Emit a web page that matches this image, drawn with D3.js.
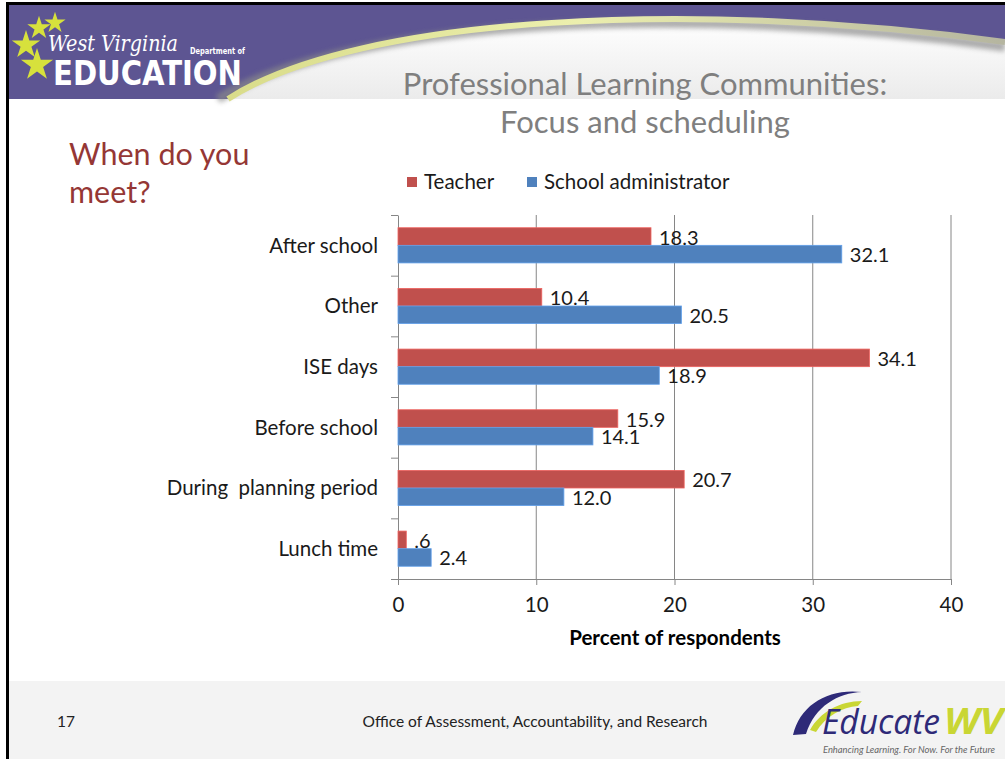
<!DOCTYPE html>
<html>
<head>
<meta charset="utf-8">
<script src="https://cdn.jsdelivr.net/npm/d3@7"></script>
<style>
  html, body { margin: 0; padding: 0; background: #fff; }
  svg { display: block; }
  text { font-family: Lato, "Open Sans", sans-serif; }
</style>
</head>
<body>
<svg id="slide"></svg>
<script>
// --- data ---
const categories = ["After school", "Other", "ISE days", "Before school", "During  planning period", "Lunch time"];
const seriesNames = ["Teacher", "School administrator"];
const teacherValues = [18.3, 10.4, 34.1, 15.9, 20.7, 0.6];
const adminValues = [32.1, 20.5, 18.9, 14.1, 12.0, 2.4];
const xTickValues = [0, 10, 20, 30, 40];
const seriesColors = ["#C0504D", "#4F81BD"];

const width = 1005;
const height = 759;

const svg = d3.select("#slide")
    .attr("width", width)
    .attr("height", height)
    .attr("viewBox", [0, 0, width, height]);

const defs = svg.append("defs");

// --- background / frame ---
svg.append("rect").attr("width", width).attr("height", height).attr("fill", "#fff");

// header band
svg.append("rect")
    .attr("x", 8).attr("y", 4).attr("width", width - 8).attr("height", 95)
    .attr("fill", "#5d5592");

const hdrGrad = defs.append("linearGradient").attr("id", "hdrGrad")
    .attr("x1", 0).attr("y1", 0).attr("x2", 0).attr("y2", 1);
hdrGrad.append("stop").attr("offset", "0%").attr("stop-color", "#ffffff");
hdrGrad.append("stop").attr("offset", "100%").attr("stop-color", "#ebebeb");

const blur = defs.append("filter").attr("id", "soft")
    .attr("x", "-10%").attr("y", "-50%").attr("width", "120%").attr("height", "200%");
blur.append("feGaussianBlur").attr("stdDeviation", 2.5);

const swoosh = "M 228,99 C 360,14 700,0 1005,42";
svg.append("path")
    .attr("d", swoosh + " L 1005,99 Z")
    .attr("fill", "url(#hdrGrad)");
svg.append("path")
    .attr("d", "M 218,99 C 350,18 690,4 1005,47")
    .attr("fill", "none").attr("stroke", "#8a8a8a").attr("stroke-width", 9)
    .attr("opacity", 0.7).attr("filter", "url(#soft)");

const yelGrad = defs.append("linearGradient").attr("id", "yelGrad")
    .attr("x1", 0).attr("y1", 0).attr("x2", 1).attr("y2", 0);
yelGrad.append("stop").attr("offset", "0%").attr("stop-color", "#d9dc8a");
yelGrad.append("stop").attr("offset", "45%").attr("stop-color", "#ecefae");
yelGrad.append("stop").attr("offset", "100%").attr("stop-color", "#b5b5a0");
svg.append("path")
    .attr("d", swoosh)
    .attr("fill", "none").attr("stroke", "url(#yelGrad)").attr("stroke-width", 6);

// black frame lines
svg.append("rect").attr("x", 6).attr("y", 2).attr("width", width - 6).attr("height", 3).attr("fill", "#000");
svg.append("rect").attr("x", 6).attr("y", 2).attr("width", 3).attr("height", height - 2).attr("fill", "#000");

// footer
svg.append("rect")
    .attr("x", 9).attr("y", 681).attr("width", width - 9).attr("height", height - 681)
    .attr("fill", "#f3f3f3");

// --- WV logo ---
const starPath = d3.symbol().type(d3.symbolStar);
[[39, 28, 170], [55, 23, 140], [26, 45, 250], [37, 65, 320]].forEach(([sx, sy, sz]) => {
    svg.append("path")
        .attr("d", starPath.size(sz)())
        .attr("transform", `translate(${sx},${sy})`)
        .attr("fill", "#d7e13c");
});
svg.append("text")
    .attr("x", 48).attr("y", 51)
    .attr("fill", "#fff")
    .style("font-family", "'DejaVu Serif', serif")
    .style("font-style", "italic")
    .style("font-size", "22px")
    .attr("textLength", 130).attr("lengthAdjust", "spacingAndGlyphs")
    .text("West Virginia");
svg.append("text")
    .attr("x", 190).attr("y", 54)
    .attr("fill", "#fff")
    .style("font-family", "'Liberation Sans Narrow', 'DejaVu Sans Condensed', sans-serif")
    .style("font-weight", "bold")
    .style("font-size", "9px")
    .attr("textLength", 55).attr("lengthAdjust", "spacingAndGlyphs")
    .text("Department of");
svg.append("text")
    .attr("x", 53).attr("y", 85)
    .attr("fill", "#fff")
    .style("font-family", "'Liberation Sans Narrow', 'DejaVu Sans Condensed', sans-serif")
    .style("font-weight", "bold")
    .style("font-size", "33px")
    .attr("textLength", 189).attr("lengthAdjust", "spacingAndGlyphs")
    .text("EDUCATION");

// --- titles ---
svg.append("text")
    .attr("x", 645).attr("y", 95)
    .attr("text-anchor", "middle")
    .attr("fill", "#7f7f7f")
    .style("font-size", "31px")
    .text("Professional Learning Communities:");
svg.append("text")
    .attr("x", 645).attr("y", 133)
    .attr("text-anchor", "middle")
    .attr("fill", "#7f7f7f")
    .style("font-size", "31px")
    .text("Focus and scheduling");

svg.append("text")
    .attr("x", 69).attr("y", 165)
    .attr("fill", "#953735")
    .style("font-size", "30.5px")
    .text("When do you");
svg.append("text")
    .attr("x", 69).attr("y", 203)
    .attr("fill", "#953735")
    .style("font-size", "30.5px")
    .text("meet?");

// --- chart ---
const plotLeft = 398, plotRight = 951, plotTop = 215, plotBottom = 579;

const x = d3.scaleLinear().domain([0, 40]).range([plotLeft, plotRight]);
const y = d3.scaleBand().domain(categories).range([plotTop, plotBottom])
    .paddingInner(0.42).paddingOuter(0.21);
const ySub = d3.scaleBand().domain(seriesNames).range([0, y.bandwidth()]);
const yEdge = d3.scaleLinear().domain([0, categories.length]).range([plotTop, plotBottom]);

const axisColor = "#868686";
const chart = svg.append("g");

// gridlines
chart.append("g")
    .selectAll("line")
    .data(xTickValues.filter(d => d > 0))
    .join("line")
    .attr("x1", d => x(d)).attr("x2", d => x(d))
    .attr("y1", plotTop).attr("y2", plotBottom)
    .attr("stroke", axisColor).attr("stroke-width", 1);

// y axis with ticks at category boundaries
const yAxisG = chart.append("g")
    .attr("transform", `translate(${plotLeft},0)`)
    .call(d3.axisLeft(yEdge).ticks(categories.length).tickSize(7).tickSizeOuter(0).tickFormat(""));
yAxisG.selectAll("path, line").attr("stroke", axisColor);

// x axis
const xAxisG = chart.append("g")
    .attr("transform", `translate(0,${plotBottom})`)
    .call(d3.axisBottom(x).tickValues(xTickValues).tickSize(6).tickSizeOuter(0).tickPadding(12));
xAxisG.selectAll("path, line").attr("stroke", axisColor);
xAxisG.selectAll("text")
    .attr("fill", "#1a1a1a")
    .style("font-family", "Lato, sans-serif")
    .style("font-size", "20.5px");

// category labels
chart.append("g")
    .selectAll("text")
    .data(categories)
    .join("text")
    .attr("x", plotLeft - 20)
    .attr("y", d => yEdge(categories.indexOf(d) + 0.5))
    .attr("dy", "0.35em")
    .attr("text-anchor", "end")
    .attr("fill", "#1a1a1a")
    .style("font-size", "20.5px")
    .style("white-space", "pre")
    .text(d => d);

// bars
const rows = categories.map((c, i) => ({
    category: c,
    values: [
        { series: seriesNames[0], value: teacherValues[i] },
        { series: seriesNames[1], value: adminValues[i] }
    ]
}));
const color = d3.scaleOrdinal().domain(seriesNames).range(seriesColors);
const fmt = v => d3.format(".1f")(v).replace(/^0\./, ".");

const groups = chart.append("g")
    .selectAll("g")
    .data(rows)
    .join("g")
    .attr("transform", d => `translate(0,${y(d.category)})`);

groups.selectAll("rect")
    .data(d => d.values)
    .join("rect")
    .attr("x", x(0))
    .attr("y", d => ySub(d.series))
    .attr("width", d => x(d.value) - x(0))
    .attr("height", ySub.bandwidth())
    .attr("fill", d => color(d.series))
    .attr("stroke", d => d3.color(color(d.series)).brighter(0.6))
    .attr("stroke-width", 0.8);

groups.selectAll("text")
    .data(d => d.values)
    .join("text")
    .attr("x", d => x(d.value) + 8)
    .attr("y", d => ySub(d.series) + ySub.bandwidth() / 2 + 1)
    .attr("dy", "0.35em")
    .attr("fill", "#1a1a1a")
    .style("font-size", "20px")
    .text(d => fmt(d.value));

// axis title
svg.append("text")
    .attr("x", 675).attr("y", 645)
    .attr("text-anchor", "middle")
    .attr("fill", "#000")
    .style("font-size", "20.5px")
    .style("font-weight", "bold")
    .text("Percent of respondents");

// legend
const legend = svg.append("g");
const legendX = [407, 527];
seriesNames.forEach((name, i) => {
    legend.append("rect")
        .attr("x", legendX[i]).attr("y", 177)
        .attr("width", 10).attr("height", 10)
        .attr("fill", seriesColors[i]);
    legend.append("text")
        .attr("x", legendX[i] + 17).attr("y", 182)
        .attr("dy", "0.35em")
        .attr("fill", "#1a1a1a")
        .style("font-size", "20.5px")
        .text(name);
});

// --- footer text ---
svg.append("text")
    .attr("x", 57).attr("y", 727)
    .attr("fill", "#222")
    .style("font-size", "15.5px")
    .text("17");
svg.append("text")
    .attr("x", 535).attr("y", 727)
    .attr("text-anchor", "middle")
    .attr("fill", "#222")
    .style("font-size", "15.5px")
    .text("Office of Assessment, Accountability, and Research");

// EducateWV logo
svg.append("path")
    .attr("d", "M 793,735 C 800,705 828,688 862,692 C 838,693 815,706 806,734 Z")
    .attr("fill", "#2e2a78");
svg.append("path")
    .attr("d", "M 810,730 C 820,712 840,701 862,701 L 858,706 C 842,707 826,716 816,732 Z")
    .attr("fill", "#c9d634");
svg.append("text")
    .attr("x", 822).attr("y", 734)
    .attr("fill", "#2e2a78")
    .style("font-family", "'Open Sans', sans-serif")
    .style("font-style", "italic")
    .style("font-size", "35px")
    .attr("textLength", 118).attr("lengthAdjust", "spacingAndGlyphs")
    .text("Educate");
svg.append("text")
    .attr("x", 944).attr("y", 734)
    .attr("fill", "#c9d634")
    .style("font-family", "'Open Sans', sans-serif")
    .style("font-style", "italic")
    .style("font-weight", "bold")
    .style("font-size", "36px")
    .attr("textLength", 59).attr("lengthAdjust", "spacingAndGlyphs")
    .text("WV");
svg.append("text")
    .attr("x", 823).attr("y", 753)
    .attr("fill", "#666")
    .style("font-style", "italic")
    .style("font-size", "9px")
    .attr("textLength", 172).attr("lengthAdjust", "spacingAndGlyphs")
    .text("Enhancing Learning. For Now. For the Future");
</script>
</body>
</html>
